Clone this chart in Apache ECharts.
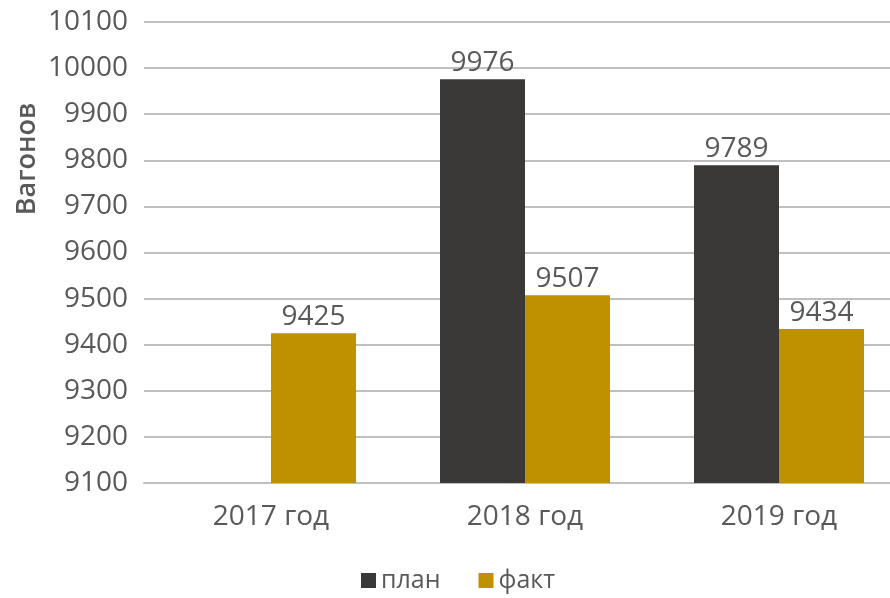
<!DOCTYPE html>
<html>
<head>
<meta charset="utf-8">
<script src="https://cdn.jsdelivr.net/npm/echarts@6/dist/echarts.min.js"></script>
<style>
html,body{margin:0;padding:0;background:#fff;}
#c{width:890px;height:598px;}
</style>
</head>
<body>
<div id="c"></div>
<script>
const categories = ['2017 год', '2018 год', '2019 год'];
const planValues = [null, 9976, 9789];
const factValues = [9425, 9507, 9434];
const seriesNames = ['план', 'факт'];
const yAxisTitle = 'Вагонов';

const FONT = '"Open Sans", sans-serif';
const TXT = '#595959';

const chart = echarts.init(document.getElementById('c'));
chart.setOption({
  animation: false,
  backgroundColor: '#ffffff',
  grid: { left: 144, right: -16, top: 22, bottom: 115, outerBoundsMode: 'none' },
  legend: {
    data: seriesNames,
    bottom: 0,
    left: 356,
    icon: 'rect',
    itemWidth: 15,
    itemHeight: 15,
    itemGap: 38,
    textStyle: { fontFamily: FONT, fontSize: 25, color: TXT }
  },
  xAxis: {
    type: 'category',
    data: categories,
    axisLine: { show: true, lineStyle: { color: '#bfbfbf', width: 2 } },
    axisTick: { show: false },
    axisLabel: { fontFamily: FONT, fontSize: 28, color: TXT, margin: 20 }
  },
  yAxis: {
    type: 'value',
    min: 9100,
    max: 10100,
    interval: 100,
    axisLine: { show: false },
    axisTick: { show: false },
    axisLabel: { fontFamily: FONT, fontSize: 28, color: TXT, margin: 16, formatter: v => String(v) },
    splitLine: { lineStyle: { color: '#bfbfbf', width: 2 } }
  },
  graphic: [{
    type: 'text',
    x: 27,
    y: 159,
    rotation: Math.PI / 2,
    style: {
      text: yAxisTitle,
      fontFamily: FONT,
      fontSize: 27,
      fontWeight: 600,
      fill: TXT,
      align: 'center',
      verticalAlign: 'middle'
    }
  }],
  series: [
    {
      name: seriesNames[0],
      type: 'bar',
      data: planValues,
      barWidth: 85,
      barGap: '0%',
      itemStyle: { color: '#3b3838' },
      label: { show: true, position: 'top', distance: 2, fontFamily: FONT, fontSize: 28, color: TXT }
    },
    {
      name: seriesNames[1],
      type: 'bar',
      data: factValues,
      barWidth: 85,
      barGap: '0%',
      itemStyle: { color: '#bf9000' },
      label: { show: true, position: 'top', distance: 2, fontFamily: FONT, fontSize: 28, color: TXT }
    }
  ]
});
</script>
</body>
</html>
